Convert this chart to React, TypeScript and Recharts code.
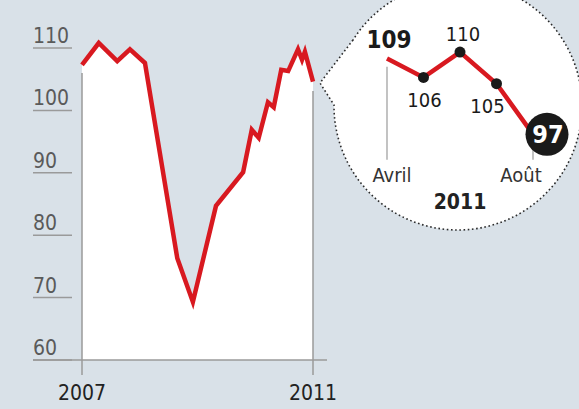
import React from "react";
import {
  AreaChart,
  Area,
  LineChart,
  Line,
  XAxis,
  YAxis,
  ReferenceLine,
  LabelList,
} from "recharts";

const FONT = "'Liberation Sans Narrow', 'DejaVu Sans Condensed', 'Roboto Condensed', sans-serif";
const RED = "#d81920";
const GRAY = "#9a9a9a";

// main series (fractional years / index points)
const years = [
  2007.0, 2007.29, 2007.61, 2007.83, 2008.09, 2008.65, 2008.92, 2009.32, 2009.79, 2009.94,
  2010.06, 2010.22, 2010.32, 2010.45, 2010.57, 2010.74, 2010.81, 2010.86, 2011.0,
];
const values = [
  107.3, 110.8, 107.9, 109.8, 107.6, 76.3, 69.3, 84.7, 90.1, 96.9,
  95.6, 101.3, 100.5, 106.5, 106.3, 109.8, 108.1, 109.4, 104.6,
];
const yTicks = [60, 70, 80, 90, 100, 110];
const xTicks = [2007, 2011];

// zoom on 2011
const months = [4, 5, 6, 7, 8];
const monthNames: Record<number, string> = { 4: "Avril", 8: "Août" };
const zoomValues = [109, 106, 110, 105, 97];

const mainData = years.map((t, i) => ({ t, v: values[i] }));
const zoomData = months.map((m, i) => ({ m, v: zoomValues[i] }));

const YTick = (props: any) => {
  const { x, y, payload } = props;
  return (
    <g>
      <text x={x} y={y - 5} fill="#5a5a5a" fontSize={21} fontFamily={FONT}>
        {payload.value}
      </text>
      <line x1={x} x2={x + 39} y1={y} y2={y} stroke={GRAY} strokeWidth={1.5} />
    </g>
  );
};

// month labels sit a little off their tick in the original
const MonthTick = (props: any) => {
  const { x, y, payload } = props;
  const shift = payload.value === 8 ? -12 : 5;
  return (
    <text x={x + shift} y={y + 15} textAnchor="middle" fill="#333" fontSize={20} fontFamily={FONT}>
      {monthNames[payload.value] || ""}
    </text>
  );
};

const ZoomDot = (props: any) => {
  const { cx, cy, index } = props;
  if (index === 0) return <g key={index} />;
  if (index === zoomValues.length - 1) {
    return (
      <g key={index}>
        <circle cx={cx + 14} cy={cy} r={21.5} fill="#1a1a1a" />
        <text x={cx + 15} y={cy + 9} textAnchor="middle" fill="#fff" fontSize={25} fontWeight="bold" fontFamily={FONT}>
          {zoomValues[index]}
        </text>
      </g>
    );
  }
  return <circle key={index} cx={cx} cy={cy} r={5.5} fill="#1a1a1a" />;
};

// label offsets for each point of the zoom
const labelPos = [
  { dx: 2, dy: -10, bold: true },
  { dx: 1, dy: 30, bold: false },
  { dx: 3, dy: -11, bold: false },
  { dx: -9, dy: 29, bold: false },
];

const ZoomLabel = (props: any) => {
  const { x, y, index, value } = props;
  const p = labelPos[index];
  if (!p) return null;
  return (
    <text
      x={x + p.dx}
      y={y + p.dy}
      textAnchor="middle"
      fill="#1a1a1a"
      fontSize={p.bold ? 24 : 20}
      fontWeight={p.bold ? "bold" : "normal"}
      fontFamily={FONT}
    >
      {value}
    </text>
  );
};

export default function App() {
  return (
    <div
      style={{
        position: "absolute",
        left: 0,
        top: 0,
        width: 579,
        height: 409,
        background: "#d9e1e8",
        fontFamily: FONT,
        overflow: "hidden",
      }}
    >
      <div style={{ position: "absolute", left: 0, top: 0 }}>
        <AreaChart width={579} height={409} data={mainData} margin={{ top: 16.8, right: 252, bottom: 19, left: 0 }}>
          <XAxis
            dataKey="t"
            type="number"
            domain={[2007, 2011]}
            padding={{ left: 49, right: 14 }}
            ticks={xTicks}
            height={30}
            tickSize={15}
            tickMargin={10}
            tickLine={{ stroke: GRAY, strokeWidth: 1.5 }}
            axisLine={{ stroke: GRAY, strokeWidth: 1.5 }}
            tick={{ fill: "#222", fontSize: 21, fontFamily: FONT }}
          />
          <YAxis
            type="number"
            domain={[60, 115]}
            ticks={yTicks}
            width={33}
            tickSize={0}
            tickMargin={0}
            axisLine={false}
            tickLine={false}
            tick={YTick}
            interval={0}
          />
          <Area
            type="linear"
            dataKey="v"
            stroke={RED}
            strokeWidth={4.5}
            fill="#ffffff"
            fillOpacity={1}
            isAnimationActive={false}
            dot={false}
            activeDot={false}
          />
          <ReferenceLine
            segment={[{ x: years[0], y: 60 }, { x: years[0], y: values[0] - 1.3 }]}
            stroke={GRAY}
            strokeWidth={1.5}
          />
          <ReferenceLine
            segment={[
              { x: years[years.length - 1], y: 60 },
              { x: years[years.length - 1], y: values[values.length - 1] - 1.5 },
            ]}
            stroke={GRAY}
            strokeWidth={1.5}
          />
        </AreaChart>
      </div>

      {/* zoom bubble */}
      <svg width={579} height={409} style={{ position: "absolute", left: 0, top: 0 }}>
        <path
          d="M 353 40 L 320 83 L 334 105 A 124 124 0 1 0 353 40 Z"
          fill="#ffffff"
          stroke="#2a2a2a"
          strokeWidth={1.6}
          strokeDasharray="1.6 2.6"
        />
      </svg>

      <div style={{ position: "absolute", left: 0, top: 0 }}>
        <LineChart width={579} height={409} data={zoomData} margin={{ top: 39.4, right: 46, bottom: 219.3, left: 387 }}>
          <XAxis
            dataKey="m"
            type="number"
            domain={[4, 8]}
            ticks={[4, 8]}
            height={30}
            tickSize={0}
            tickMargin={7}
            axisLine={false}
            tickLine={false}
            tick={MonthTick}
            label={{ value: "2011", position: "bottom", offset: 4, fill: "#222", fontSize: 21, fontWeight: "bold", fontFamily: FONT }}
          />
          <YAxis type="number" domain={[93, 112]} hide />
          <ReferenceLine
            segment={[{ x: months[0], y: 93 }, { x: months[0], y: zoomValues[0] - 1.3 }]}
            stroke={GRAY}
            strokeWidth={1.2}
          />
          <ReferenceLine
            segment={[{ x: months[4], y: 93 }, { x: months[4], y: zoomValues[4] - 1.5 }]}
            stroke={GRAY}
            strokeWidth={1.2}
          />
          <Line
            type="linear"
            dataKey="v"
            stroke={RED}
            strokeWidth={4.5}
            dot={ZoomDot}
            activeDot={false}
            isAnimationActive={false}
          >
            <LabelList dataKey="v" content={ZoomLabel} />
          </Line>
        </LineChart>
      </div>
    </div>
  );
}
